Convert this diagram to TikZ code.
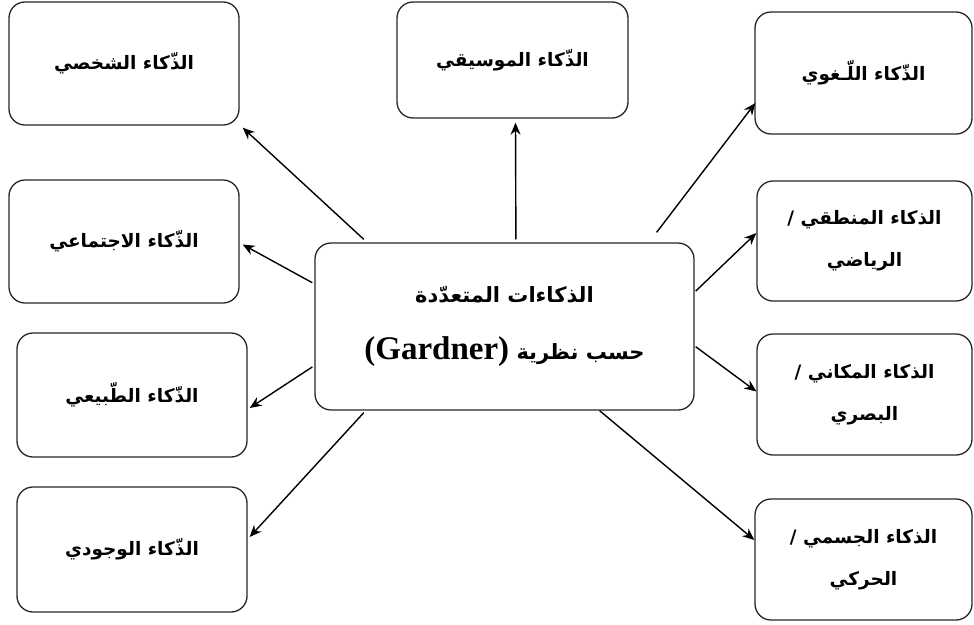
\documentclass[tikz,border=0pt]{standalone}
\usepackage{fontspec}
\setmainfont{Liberation Serif}
\TeXXeTstate=1
\newfontfamily\arabicfont[Script=Arabic]{DejaVu Sans}
\usetikzlibrary{calc,arrows.meta}
\tikzset{
  box/.style={draw=black!85, line width=1.3pt, rounded corners=16pt, align=center,
    inner sep=0pt, font=\arabicfont\bfseries\fontsize{18.5}{42}\selectfont},
  arr/.style={-{Stealth[length=12pt,width=10pt]}, line width=1.4pt}
}
\begin{document}
\begin{tikzpicture}[x=1pt,y=-1pt]
\useasboundingbox (0,0) rectangle (974,624);
% boxes
\node[box, minimum width=230pt, minimum height=123pt] (shakhsi) at (124,63.5) {\beginR الذّكاء الشخصي\endR};
\node[box, minimum width=231pt, minimum height=116pt] (musiqi) at (512.5,60) {\beginR الذّكاء الموسيقي\endR};
\node[box, minimum width=217pt, minimum height=122pt] (lughawi) at (863.5,73) {\beginR الذّكاء اللّـغوي\endR};
\node[box, minimum width=230pt, minimum height=123pt] (ijtimai) at (124,241.5) {\beginR الذّكاء الاجتماعي\endR};
\node[box, minimum width=230pt, minimum height=124pt] (tabii) at (132,395) {\beginR الذّكاء الطّبيعي\endR};
\node[box, minimum width=230pt, minimum height=125pt] (wujudi) at (132,549.5) {\beginR الذّكاء الوجودي\endR};
\node[box, minimum width=215pt, minimum height=120pt] (mantiqi) at (864.5,241) {\beginR الذكاء المنطقي /\endR\\\beginR الرياضي\endR};
\node[box, minimum width=215pt, minimum height=121pt] (makani) at (864.5,394.5) {\beginR الذكاء المكاني /\endR\\\beginR البصري\endR};
\node[box, minimum width=217pt, minimum height=121pt] (jismi) at (863.5,559.5) {\beginR الذكاء الجسمي /\endR\\\beginR الحركي\endR};
\node[box, minimum width=379pt, minimum height=167pt, font=\arabicfont\bfseries\fontsize{21}{57}\selectfont] (ctr) at (504.5,326.5)
  {\beginR الذكاءات المتعدّدة\endR\\\beginR حسب نظرية \beginL{\fontsize{33}{57}\selectfont\rmfamily\bfseries (Gardner)}\endL\endR};
% arrows
\draw[arr] ($(ctr.north west)!0.13!(ctr.north east)+(0,-3)$) -- ($(shakhsi.south east)+(3,2)$);
\draw[arr] ($(ctr.north west)!0.53!(ctr.north east)+(0,-3)$) -- ($(musiqi.south)+(3,4)$);
\draw[arr] ($(ctr.north west)!0.90!(ctr.north east)+(0,-10)$) -- ($(lughawi.west)+(1,30)$);
\draw[arr] ($(ctr.north west)!0.24!(ctr.south west)+(-2,0)$) -- ($(ijtimai.east)+(3,3)$);
\draw[arr] ($(ctr.north west)!0.74!(ctr.south west)+(-2,0)$) -- ($(tabii.east)+(2,13)$);
\draw[arr] ($(ctr.south west)!0.13!(ctr.south east)+(0,2)$) -- ($(wujudi.east)+(2,-12.5)$);
\draw[arr] ($(ctr.north east)!0.29!(ctr.south east)+(1,0)$) -- ($(mantiqi.west)+(0,-8)$);
\draw[arr] ($(ctr.north east)!0.62!(ctr.south east)+(1,0)$) -- ($(makani.west)+(0,-3)$);
\draw[arr] ($(ctr.south west)!0.75!(ctr.south east)+(0,0)$) -- ($(jismi.west)+(0,-19.5)$);
\end{tikzpicture}
\end{document}
